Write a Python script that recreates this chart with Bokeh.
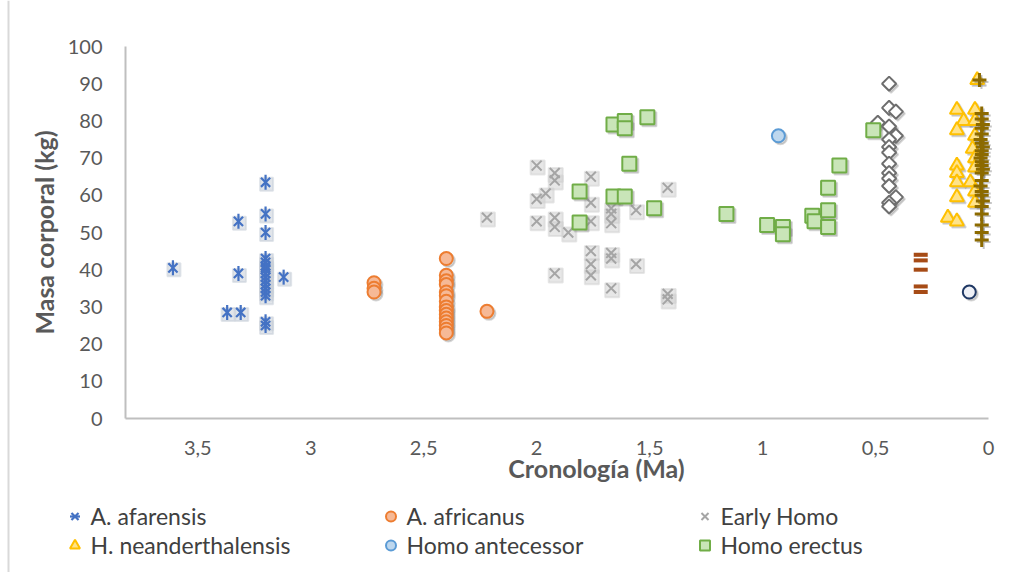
from bokeh.plotting import figure
from bokeh.models import (Range1d, FixedTicker, CustomJSTickFormatter, Legend, LegendItem,
                          Label, BoxAnnotation, ColumnDataSource)
from bokeh.transform import dodge
from bokeh.embed import file_html
from bokeh.resources import INLINE
import math

# ---- data: chronology (Ma) and body mass (kg) per taxon ----
afarensis_ma = [3.61, 3.37, 3.31, 3.32, 3.32, 3.12,
                3.2, 3.2, 3.2, 3.2, 3.2, 3.2, 3.2, 3.2, 3.2, 3.2, 3.2, 3.2, 3.2, 3.2, 3.2, 3.2, 3.2]
afarensis_kg = [40.5, 28.5, 28.5, 53, 39, 38,
                63.5, 55, 50, 43, 42, 41, 40.5, 40, 39, 38, 37, 36, 35, 34, 33, 26, 25]

africanus_ma = [2.72, 2.72, 2.72,
                2.4, 2.4, 2.4, 2.4, 2.4, 2.4, 2.4, 2.4, 2.4, 2.4, 2.4, 2.4, 2.4, 2.4, 2.4,
                2.22]
africanus_kg = [36.5, 35, 34,
                43, 38.5, 37, 36, 34, 33, 31.5, 30, 29, 28, 27, 26, 25, 24, 23,
                28.8]

early_homo_ma = [2.22, 2.0, 2.0, 2.0, 1.96, 1.92, 1.92, 1.92, 1.92, 1.92, 1.86,
                 1.76, 1.76, 1.76, 1.76, 1.76, 1.76, 1.67, 1.67, 1.67, 1.67, 1.67, 1.67,
                 1.56, 1.56, 1.42, 1.42, 1.42]
early_homo_kg = [54, 68, 59, 53, 60.5, 66, 64, 54, 51.5, 39, 50,
                 65, 58, 53, 45, 41.5, 38.5, 56.5, 55, 52.5, 44.5, 43, 35,
                 56, 41.5, 62, 33.5, 32]

neanderthal_ma = [0.05, 0.14, 0.06, 0.11, 0.06, 0.14, 0.06, 0.07, 0.06, 0.14,
                  0.06, 0.14, 0.14, 0.08, 0.06, 0.14, 0.06, 0.18, 0.14]
neanderthal_kg = [91, 83, 83, 80, 80, 77.5, 76, 72.5, 70, 68,
                  67.5, 66, 63.5, 63.5, 61, 59.5, 58, 54, 53]

antecessor_ma = [0.93]
antecessor_kg = [76]

erectus_ma = [1.81, 1.81, 1.66, 1.61, 1.61, 1.66, 1.61, 1.59, 1.51, 1.48, 1.16,
              0.98, 0.91, 0.91, 0.78, 0.77, 0.71, 0.71, 0.71, 0.66, 0.51]
erectus_kg = [61, 52.7, 79, 80, 78, 59.7, 59.7, 68.5, 81, 56.5, 55,
              52, 51.5, 49.5, 54.5, 53, 62, 56, 51.5, 68, 77.5]

heidelberg_ma = [0.44, 0.44, 0.41, 0.49, 0.44, 0.41, 0.44, 0.44, 0.44, 0.44,
                 0.44, 0.44, 0.44, 0.41, 0.44, 0.44]
heidelberg_kg = [90, 83.5, 82.5, 79.5, 78.5, 76, 75, 73, 71.5, 68.5,
                 66, 64.5, 62.5, 59.5, 58, 57]

naledi_ma = [0.3, 0.3, 0.3, 0.3, 0.3]
naledi_kg = [44, 42.5, 40, 35.5, 34]

floresiensis_ma = [0.085]
floresiensis_kg = [34]

sapiens_ma = [0.04, 0.03, 0.03, 0.025, 0.03, 0.03, 0.035, 0.03, 0.025, 0.03, 0.03, 0.035, 0.03,
              0.03, 0.025, 0.03, 0.03, 0.035, 0.03, 0.03, 0.025, 0.03, 0.03, 0.03, 0.03, 0.03]
sapiens_kg = [91, 82, 80.5, 79, 78, 76.5, 75, 74, 73, 72, 71, 70, 69,
              68, 67, 66, 64, 62.5, 61, 60, 58.5, 57, 55, 52, 50, 48]

X_TICKS = [0, 0.5, 1, 1.5, 2, 2.5, 3, 3.5]
Y_TICKS = [0, 10, 20, 30, 40, 50, 60, 70, 80, 90, 100]
X_AXIS_MAX = 3.82
Y_AXIS_MAX = 100

# ---- page geometry (pixels) ----
W, H = 1010, 572
PLOT_L, PLOT_R, PLOT_T, PLOT_B = 125, 988, 46, 418
FONT = "Lato"
TXT = "#595959"
AXIS_GREY = "#BFBFBF"

# The frame covers the whole canvas; the axes sit at fixed data locations inside it,
# so the titles and legends below the axis are drawn inside the frame as well.
px_x = X_AXIS_MAX / (PLOT_R - PLOT_L)      # Ma per pixel
px_y = Y_AXIS_MAX / (PLOT_B - PLOT_T)      # kg per pixel
x_range = Range1d(X_AXIS_MAX + PLOT_L * px_x, -(W - PLOT_R) * px_x)
y_range = Range1d(-(H - PLOT_B) * px_y, Y_AXIS_MAX + PLOT_T * px_y)

p = figure(width=W, height=H, output_backend="svg", toolbar_location=None,
           x_range=x_range, y_range=y_range, min_border=0)
p.outline_line_color = None
p.xgrid.visible = False
p.ygrid.visible = False
p.background_fill_color = "white"
p.border_fill_color = "white"


def src(ma, kg):
    return ColumnDataSource(dict(ma=ma, kg=kg))


def shadow(s, marker, size, dx=2, dy=2, color="#7F7F7F", alpha=0.3, angle=0.0):
    p.scatter(x=dodge("ma", -dx * px_x), y=dodge("kg", -dy * px_y), source=s,
              marker=marker, size=size, angle=angle, fill_color=color, line_color=color,
              fill_alpha=alpha, line_alpha=alpha, line_width=2)


# A. afarensis: star (x plus a vertical stroke)
s_afa = src(afarensis_ma, afarensis_kg)
shadow(s_afa, "square", 13, dx=1, dy=2, color="#C9CFD8", alpha=0.55)
r_afa1 = p.scatter("ma", "kg", source=s_afa, marker="x", size=13, line_color="#4472C4", line_width=2.2)
r_afa2 = p.scatter("ma", "kg", source=s_afa, marker="dash", size=15, angle=math.pi / 2,
                   line_color="#4472C4", line_width=2.2)

# A. africanus: circles
s_afr = src(africanus_ma, africanus_kg)
shadow(s_afr, "circle", 13)
r_afr = p.scatter("ma", "kg", source=s_afr, marker="circle", size=13,
                  fill_color="#F6B996", line_color="#ED7D31", line_width=2)

# Early Homo: x
s_eh = src(early_homo_ma, early_homo_kg)
shadow(s_eh, "square", 14, dx=1, dy=2, color="#CFCFCF", alpha=0.5)
r_eh = p.scatter("ma", "kg", source=s_eh, marker="x", size=14, line_color="#A5A5A5", line_width=2)

# H. heidelbergensis: hollow diamonds
s_hei = src(heidelberg_ma, heidelberg_kg)
shadow(s_hei, "square", 10, angle=math.pi / 4)
r_hei = p.scatter("ma", "kg", source=s_hei, marker="square", size=10, angle=math.pi / 4,
                  fill_color="white", line_color="#6E6E6E", line_width=2)

# H. neanderthalensis: triangles
s_nea = src(neanderthal_ma, neanderthal_kg)
shadow(s_nea, "triangle", 14)
r_nea = p.scatter("ma", "kg", source=s_nea, marker="triangle", size=14,
                  fill_color="#FFE38A", line_color="#FFC000", line_width=2)

# Homo antecessor: circle
s_ant = src(antecessor_ma, antecessor_kg)
shadow(s_ant, "circle", 13)
r_ant = p.scatter("ma", "kg", source=s_ant, marker="circle", size=13,
                  fill_color="#BDD7EE", line_color="#5B9BD5", line_width=2)

# Homo erectus: squares
s_ere = src(erectus_ma, erectus_kg)
shadow(s_ere, "square", 14)
r_ere = p.scatter("ma", "kg", source=s_ere, marker="square", size=14,
                  fill_color="#C9E5B8", line_color="#70AD47", line_width=2)

# H. naledi: dashes
s_nal = src(naledi_ma, naledi_kg)
r_nal = p.scatter("ma", "kg", source=s_nal, marker="dash", size=14,
                  line_color="#A64B16", line_width=4)

# H. floresiensis: hollow circle
s_flo = src(floresiensis_ma, floresiensis_kg)
shadow(s_flo, "circle", 13)
r_flo = p.scatter("ma", "kg", source=s_flo, marker="circle", size=13,
                  fill_color="#EEF0F6", line_color="#1F3864", line_width=2)

# H. sapiens: crosses
s_sap = src(sapiens_ma, sapiens_kg)
shadow(s_sap, "cross", 14, dx=2, dy=2, color="#595959", alpha=0.35)
r_sap = p.scatter("ma", "kg", source=s_sap, marker="cross", size=14,
                  line_color="#8C6A00", line_width=3)

# ---- axes ----
for ax in (p.xaxis[0], p.yaxis[0]):
    ax.axis_line_color = AXIS_GREY
    ax.axis_line_width = 2
    ax.major_tick_line_color = None
    ax.minor_tick_line_color = None
    ax.major_label_text_font = FONT
    ax.major_label_text_font_size = "20px"
    ax.major_label_text_color = TXT

p.xaxis.fixed_location = 0
p.xaxis.bounds = (0, X_AXIS_MAX)
p.xaxis.ticker = FixedTicker(ticks=X_TICKS)
p.xaxis.formatter = CustomJSTickFormatter(code="return String(tick).replace('.', ',')")
p.xaxis.major_label_standoff = 16

p.yaxis.fixed_location = X_AXIS_MAX
p.yaxis.bounds = (0, Y_AXIS_MAX)
p.yaxis.ticker = FixedTicker(ticks=Y_TICKS)
p.yaxis.major_label_standoff = 17
p.yaxis.axis_label = "Masa corporal (kg)"
p.yaxis.axis_label_text_font = FONT
p.yaxis.axis_label_text_font_style = "bold"
p.yaxis.axis_label_text_font_size = "25px"
p.yaxis.axis_label_text_color = TXT
p.yaxis.axis_label_standoff = 6

p.add_layout(Label(x=596, y=H - 467, x_units="screen", y_units="screen", text="Cronología (Ma)",
                   text_font=FONT, text_font_style="bold", text_font_size="25px",
                   text_color=TXT, text_align="center", text_baseline="middle"))

# chart-area left border
p.add_layout(BoxAnnotation(left=7, right=9, left_units="screen", right_units="screen",
                           fill_color="#D9D9D9", fill_alpha=1, line_color=None))

# ---- legend: two rows of three entries, one legend per entry ----
entries = [
    ("A. afarensis", [r_afa1, r_afa2], 74, 516),
    ("A. africanus", [r_afr], 390, 516),
    ("Early Homo", [r_eh], 704, 516),
    ("H. neanderthalensis", [r_nea], 74, 545),
    ("Homo antecessor", [r_ant], 390, 545),
    ("Homo erectus", [r_ere], 704, 545),
]
GW, GH = 25, 28
for text, rs, cx, cy in entries:
    lg = Legend(items=[LegendItem(label=text, renderers=rs)],
                location=(cx - GW / 2, H - (cy + GH / 2)), orientation="vertical",
                glyph_width=GW, glyph_height=GH, label_height=GH, spacing=0,
                label_standoff=4, padding=0, margin=0,
                border_line_color=None, background_fill_alpha=0,
                label_text_font=FONT, label_text_font_size="23px", label_text_color="#404040",
                label_text_baseline="middle")
    p.add_layout(lg)

open("out.html", "w").write(file_html(p, INLINE))
